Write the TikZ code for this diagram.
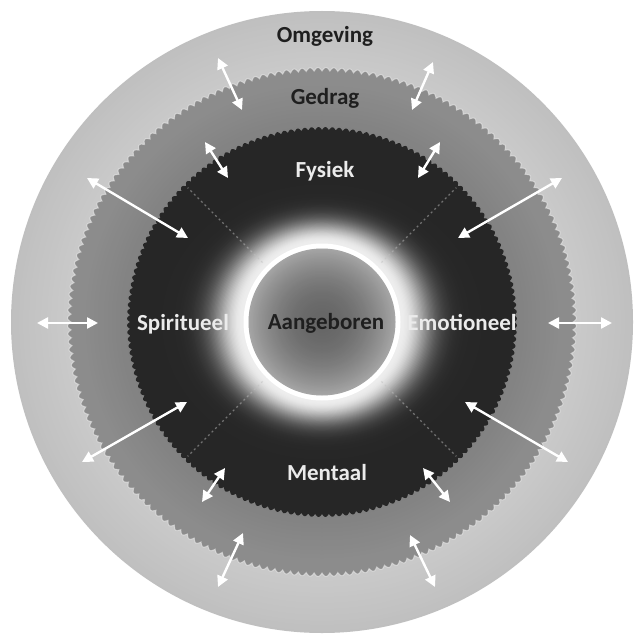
\documentclass[tikz,border=0pt]{standalone}
\usepackage{fontspec}
\setmainfont{Carlito}
\usetikzlibrary{arrows.meta}
\tikzset{
  dbl/.style={white, line width=2.4pt, {Triangle[length=11pt,width=11pt]}-{Triangle[length=11pt,width=11pt]}},
  lab/.style={font=\bfseries\fontsize{23}{26}\selectfont, inner sep=0pt, anchor=base},
  darklab/.style={lab, text=black!88},
  lightlab/.style={lab, text=white!92!black},
  divider/.style={white!75!black, line width=1.2pt, dash pattern=on 2pt off 3pt, opacity=0.5},
}
\begin{document}
\begin{tikzpicture}[x=1pt,y=-1pt]
\useasboundingbox (0,0) rectangle (636,639);
\fill[white] (0,0) rectangle (636,639);
\begin{scope}[shift={(322,322)}]
  % Omgeving
  \foreach \r in {311,309,...,255}{
    \pgfmathsetmacro\g{0.75+0.04*(311-\r)/56}
    \definecolor{tmpc}{gray}{\g}
    \fill[tmpc] (0,0) circle (\r);
  }
  % Gedrag (toothed)
  \definecolor{gedragc}{gray}{0.55}
  \fill[gedragc] plot[domain=0:200, samples=1601, variable=\u] ({\u*1.8}:{251+3.5*sin(180*(\u-floor(\u)))}) -- cycle;
  \draw[white, line width=1pt, opacity=0.45] plot[domain=0:200, samples=1601, variable=\u] ({\u*1.8}:{251+3.5*sin(180*(\u-floor(\u)))}) -- cycle;
  % slightly darker band near the inner edge of Gedrag
  \foreach \r in {240,238,...,196}{
    \pgfmathsetmacro\g{0.55-0.04*(240-\r)/44}
    \definecolor{tmpc}{gray}{\g}
    \fill[tmpc] (0,0) circle (\r);
  }
  % dark disk (toothed)
  \definecolor{darkc}{gray}{0.15}
  \fill[darkc] plot[domain=0:176, samples=1409, variable=\u] ({\u*2.0454545}:{192+3*sin(180*(\u-floor(\u)))}) -- cycle;
  % glow (slightly wider horizontally)
  \foreach \d in {84,83,...,0}{
    \pgfmathsetmacro\g{0.15+0.78*exp(-(\d/24)^2)}
    \definecolor{tmpc}{gray}{\g}
    \fill[tmpc] (0,0) ellipse ({80+1.25*\d} and {80+0.9*\d});
  }
  % dividers
  \foreach \a in {45,135,225,315}{
    \draw[divider] (\a:84) -- (\a:190);
  }
  % white ring
  \draw[white, line width=5pt] (0,0) circle (76);
  % inner disk
  \foreach \r in {73.5,72,...,1.5}{
    \pgfmathsetmacro\g{0.40+0.25*(\r/74)^2}
    \definecolor{tmpc}{gray}{\g}
    \fill[tmpc] (0,0) circle (\r);
  }
\end{scope}
% labels
\node[darklab] (omgeving) at (325,43) {Omgeving};
\node[darklab] (gedrag) at (325,105) {Gedrag};
\node[lightlab] (fysiek) at (325,178) {Fysiek};
\node[lightlab] (spiritueel) at (183,330) {Spiritueel};
\node[lightlab] (emotioneel) at (462,330) {Emotioneel};
\node[lightlab] (mentaal) at (327,480) {Mentaal};
\node[darklab] (aangeboren) at (326,329) {Aangeboren};
% arrow ends
\coordinate (a1s) at (218,58);  \coordinate (a1e) at (242,110);
\coordinate (a2s) at (433,62);  \coordinate (a2e) at (412,110);
\coordinate (a3s) at (205,142); \coordinate (a3e) at (228,178);
\coordinate (a4s) at (440,142); \coordinate (a4e) at (418,178);
\coordinate (a5s) at (87,178);  \coordinate (a5e) at (188,238);
\coordinate (a6s) at (37,323);  \coordinate (a6e) at (98,323);
\coordinate (a7s) at (82,462);  \coordinate (a7e) at (187,402);
\coordinate (a8s) at (562,178); \coordinate (a8e) at (458,238);
\coordinate (a9s) at (548,323); \coordinate (a9e) at (612,323);
\coordinate (a10s) at (465,402); \coordinate (a10e) at (568,462);
\coordinate (a11s) at (202,502); \coordinate (a11e) at (225,468);
\coordinate (a12s) at (423,468); \coordinate (a12e) at (450,502);
\coordinate (a13s) at (218,587); \coordinate (a13e) at (243,533);
\coordinate (a14s) at (410,535); \coordinate (a14e) at (435,587);
\foreach \i in {1,...,14}{
  \draw[dbl] (a\i s) -- (a\i e);
}
\end{tikzpicture}
\end{document}
